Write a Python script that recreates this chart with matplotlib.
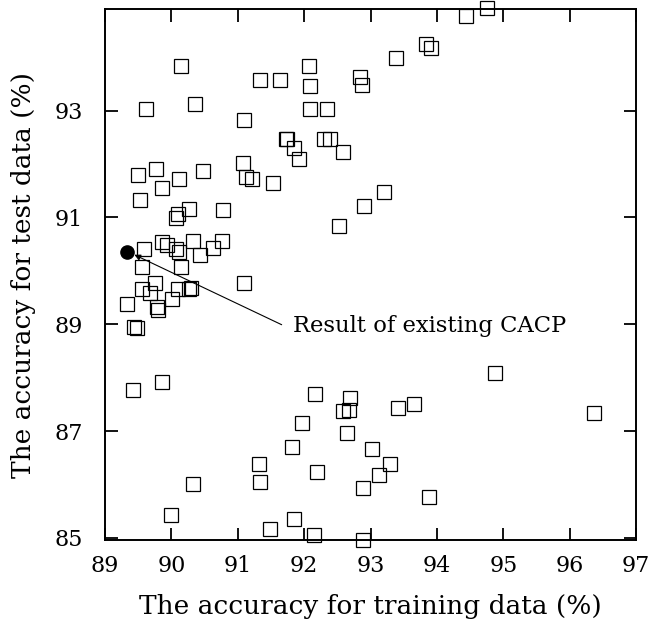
import matplotlib
matplotlib.use("Agg")
import matplotlib.pyplot as plt

train_acc = [
    90.14, 89.62, 90.35, 91.34, 91.64, 92.07, 92.09, 92.09, 92.34, 91.09,
    91.73, 91.74, 91.85, 91.92, 92.30, 92.39, 92.58, 91.07, 91.12, 91.22,
    91.53, 89.49, 89.77, 90.11, 90.47, 89.86, 89.52, 90.27, 90.10, 90.07,
    90.77, 92.53, 92.90, 93.20, 94.75, 94.44, 93.83, 93.91, 93.39, 92.84,
    92.87,
    89.59, 89.86, 89.93, 90.07, 90.11, 90.33, 90.43, 90.62, 90.76, 89.55,
    90.14, 89.75, 89.55, 89.68, 90.10, 90.27, 90.29, 90.01, 89.33, 89.78,
    89.79, 89.43, 89.48, 91.10,
    89.42, 89.86, 92.17, 92.69, 92.59, 92.68, 93.42, 93.66, 94.88, 96.36,
    91.97, 92.65, 91.82, 93.02, 91.32, 93.30, 92.19, 93.12, 91.34, 90.32,
    92.88, 93.88, 89.99, 91.84, 91.48, 92.15, 92.88,
]
test_acc = [
    93.83, 93.02, 93.13, 93.58, 93.58, 93.83, 93.46, 93.02, 93.02, 92.83,
    92.47, 92.46, 92.29, 92.10, 92.47, 92.47, 92.22, 92.02, 91.76, 91.72,
    91.64, 91.79, 91.91, 91.72, 91.87, 91.54, 91.32, 91.16, 91.06, 90.99,
    91.13, 90.83, 91.22, 91.47, 94.91, 94.76, 94.24, 94.17, 93.98, 93.62,
    93.48,
    90.40, 90.54, 90.48, 90.40, 90.35, 90.55, 90.29, 90.43, 90.55, 90.07,
    90.07, 89.78, 89.66, 89.58, 89.66, 89.66, 89.67, 89.48, 89.37, 89.33,
    89.26, 88.94, 88.93, 89.78,
    87.77, 87.91, 87.70, 87.62, 87.37, 87.40, 87.44, 87.51, 88.09, 87.33,
    87.15, 86.96, 86.71, 86.67, 86.38, 86.38, 86.23, 86.17, 86.05, 86.01,
    85.94, 85.76, 85.43, 85.36, 85.17, 85.06, 84.96,
]
existing_cacp = (89.33, 90.36)
annotation_text = "Result of existing CACP"
x_ticks = [89, 90, 91, 92, 93, 94, 95, 96, 97]
y_ticks = [85, 87, 89, 91, 93]

plt.rcParams['font.family'] = ['DejaVu Serif']
fig = plt.figure(figsize=(6.49, 6.26), dpi=100)
ax = fig.add_axes([0.162, 0.1374, 0.818, 0.8482])

ax.plot(train_acc, test_acc, linestyle='none', marker='s', markersize=10,
        markerfacecolor='none', markeredgecolor='black', markeredgewidth=0.9,
        clip_on=False, zorder=3)
ax.plot([existing_cacp[0]], [existing_cacp[1]], linestyle='none', marker='o',
        markersize=9.5, color='black', clip_on=False, zorder=4)

ax.annotate('', xy=(89.44, 90.30), xytext=(91.66, 88.99),
            arrowprops=dict(arrowstyle='-|>', lw=0.8, color='black',
                            shrinkA=0, shrinkB=0, mutation_scale=9))
ax.text(91.83, 88.96, annotation_text, ha='left', va='center', fontsize=16.3)

ax.set_xlim(89, 97)
ax.set_ylim(84.96, 94.9)
ax.set_xticks(x_ticks)
ax.set_yticks(y_ticks)
ax.tick_params(direction='in', length=9, width=1.3, top=True, right=True,
               labelsize=16)
ax.tick_params(axis='x', pad=11)
ax.tick_params(axis='y', pad=16)
for s in ax.spines.values():
    s.set_linewidth(1.4)

ax.set_xlabel('The accuracy for training data (%)', fontsize=19, labelpad=12)
ax.set_ylabel('The accuracy for test data (%)', fontsize=19, labelpad=13)

fig.savefig('out.png', dpi=100)
